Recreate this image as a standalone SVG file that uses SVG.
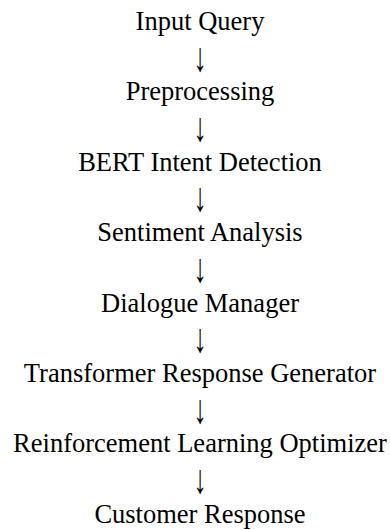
<svg xmlns="http://www.w3.org/2000/svg" width="390" height="530" viewBox="0 0 390 530">
<style>
text{font-family:"Liberation Serif","Times New Roman",serif;font-size:26.5px;fill:#000;text-anchor:middle}
</style>
<rect width="390" height="530" fill="#fff"/>
<g id="connectors">
<text transform="translate(200,70.5) scale(1,1.55)">↓</text>
<text transform="translate(200,140.9) scale(1,1.55)">↓</text>
<text transform="translate(200,211.3) scale(1,1.55)">↓</text>
<text transform="translate(200,281.7) scale(1,1.55)">↓</text>
<text transform="translate(200,352.1) scale(1,1.55)">↓</text>
<text transform="translate(200,422.5) scale(1,1.55)">↓</text>
<text transform="translate(200,492.9) scale(1,1.55)">↓</text>
</g>
<g id="n1"><text x="200" y="30">Input Query</text></g>
<g id="n2"><text x="200" y="100.4">Preprocessing</text></g>
<g id="n3"><text x="200" y="170.8">BERT Intent Detection</text></g>
<g id="n4"><text x="200" y="241.2">Sentiment Analysis</text></g>
<g id="n5"><text x="200" y="311.6">Dialogue Manager</text></g>
<g id="n6"><text x="200" y="382">Transformer Response Generator</text></g>
<g id="n7"><text x="200" y="452.4">Reinforcement Learning Optimizer</text></g>
<g id="n8"><text x="200" y="522.8">Customer Response</text></g>
</svg>
